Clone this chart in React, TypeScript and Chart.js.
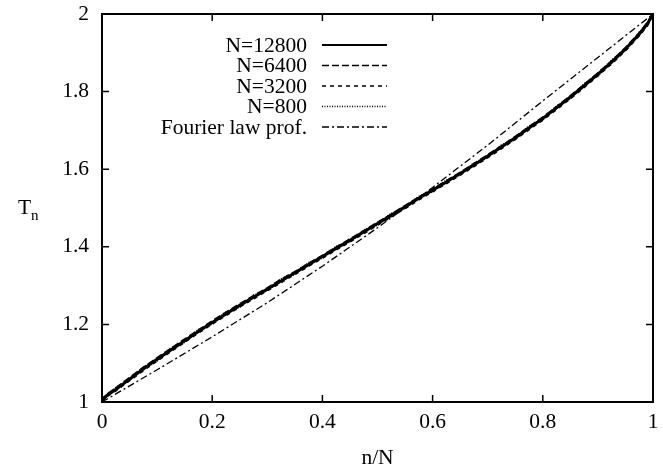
import React, { useEffect, useRef } from "react";
import { Chart, registerables } from "chart.js";

Chart.register(...registerables);

// Positions n/N of the sampled sites
const positions = [
  0, 0.005, 0.01, 0.025, 0.05, 0.075, 0.1, 0.125, 0.15, 0.175, 0.2, 0.225, 0.25,
  0.275, 0.3, 0.325, 0.35, 0.375, 0.4, 0.425, 0.45, 0.475, 0.5, 0.525, 0.55,
  0.575, 0.6, 0.625, 0.65, 0.675, 0.7, 0.725, 0.75, 0.775, 0.8, 0.825, 0.85,
  0.875, 0.9, 0.925, 0.95, 0.975, 0.99, 0.995, 1,
];

// Temperature profiles T_n for each system size
const tempN12800 = [
  1.0, 1.011, 1.018, 1.032, 1.059, 1.085, 1.11, 1.134, 1.158, 1.182, 1.205, 1.227,
  1.249, 1.27, 1.291, 1.312, 1.333, 1.354, 1.375, 1.396, 1.417, 1.438, 1.46, 1.481,
  1.503, 1.525, 1.546, 1.567, 1.589, 1.611, 1.634, 1.657, 1.681, 1.706, 1.731,
  1.758, 1.786, 1.815, 1.845, 1.876, 1.91, 1.948, 1.975, 1.987, 2.0,
];
const tempN6400 = [
  1.0, 1.013, 1.02, 1.035, 1.062, 1.088, 1.113, 1.137, 1.161, 1.184, 1.208, 1.23,
  1.252, 1.273, 1.293, 1.315, 1.335, 1.356, 1.377, 1.398, 1.419, 1.44, 1.462,
  1.483, 1.505, 1.527, 1.548, 1.569, 1.591, 1.613, 1.636, 1.659, 1.683, 1.708,
  1.733, 1.76, 1.788, 1.817, 1.847, 1.878, 1.912, 1.95, 1.977, 1.988, 2.0,
];
const tempN3200 = [
  1.0, 1.009, 1.016, 1.03, 1.056, 1.082, 1.107, 1.131, 1.155, 1.179, 1.202, 1.224,
  1.246, 1.267, 1.288, 1.309, 1.33, 1.351, 1.372, 1.393, 1.414, 1.435, 1.457,
  1.478, 1.5, 1.522, 1.543, 1.564, 1.586, 1.608, 1.631, 1.654, 1.678, 1.703,
  1.728, 1.755, 1.783, 1.812, 1.842, 1.873, 1.907, 1.945, 1.972, 1.985, 2.0,
];
const tempN800 = [
  1.0, 1.015, 1.017, 1.036, 1.057, 1.089, 1.107, 1.138, 1.155, 1.186, 1.202, 1.231,
  1.246, 1.274, 1.288, 1.316, 1.33, 1.358, 1.372, 1.4, 1.414, 1.442, 1.457, 1.485,
  1.5, 1.529, 1.543, 1.571, 1.586, 1.615, 1.631, 1.661, 1.678, 1.71, 1.728, 1.762,
  1.783, 1.819, 1.842, 1.88, 1.907, 1.952, 1.972, 1.99, 2.0,
];

// Fourier law prediction
const fourierPositions = [0, 0.1, 0.2, 0.3, 0.4, 0.5, 0.6, 0.7, 0.8, 0.9, 1];
const fourierTemp = [1.0, 1.083, 1.168, 1.256, 1.35, 1.449, 1.553, 1.662, 1.776, 1.888, 2.0];

const xTicks = [0, 0.2, 0.4, 0.6, 0.8, 1];
const yTicks = [1, 1.2, 1.4, 1.6, 1.8, 2];

const legendLabels = ["N=12800", "N=6400", "N=3200", "N=800", "Fourier law prof."];
const legendDashes: number[][] = [[], [7, 3], [4, 4], [1, 1.5], [7, 3, 2, 3]];

const FONT = "Liberation Serif, Times New Roman, serif";
const FS = 21.5;

const toPoints = (xs: number[], ys: number[]) => xs.map((x, i) => ({ x, y: ys[i] }));

const fmt = (v: number) => String(Math.round(v * 10) / 10);

const framePlugin = {
  id: "gnuplotFrame",
  afterDraw(chart: any) {
    const { ctx, chartArea, scales } = chart;
    const { left, right, top, bottom } = chartArea;
    const xs = scales.x;
    const ys = scales.y;
    ctx.save();
    ctx.strokeStyle = "#000";
    ctx.lineWidth = 2;
    ctx.setLineDash([]);
    ctx.strokeRect(left, top, right - left, bottom - top);
    ctx.lineWidth = 1.5;
    const tl = 7;
    ctx.beginPath();
    xTicks.forEach((v) => {
      const px = xs.getPixelForValue(v);
      ctx.moveTo(px, bottom);
      ctx.lineTo(px, bottom - tl);
      ctx.moveTo(px, top);
      ctx.lineTo(px, top + tl);
    });
    yTicks.forEach((v) => {
      const py = ys.getPixelForValue(v);
      ctx.moveTo(left, py);
      ctx.lineTo(left + tl, py);
      ctx.moveTo(right, py);
      ctx.lineTo(right - tl, py);
    });
    ctx.stroke();

    // Legend
    ctx.font = `${FS}px ${FONT}`;
    ctx.fillStyle = "#000";
    ctx.textAlign = "right";
    ctx.textBaseline = "middle";
    const textRight = 307;
    const lineStart = 322;
    const lineEnd = 387;
    const rowTop = 45;
    const rowGap = 20.5;
    legendLabels.forEach((label, i) => {
      const y = rowTop + i * rowGap;
      ctx.fillText(label, textRight, y + 1);
      ctx.beginPath();
      ctx.lineWidth = i === 0 ? 2 : 1.3;
      ctx.setLineDash(legendDashes[i]);
      ctx.moveTo(lineStart, y);
      ctx.lineTo(lineEnd, y);
      ctx.stroke();
    });
    ctx.setLineDash([]);

    // Axis titles
    ctx.textAlign = "center";
    ctx.textBaseline = "middle";
    ctx.font = `${FS}px ${FONT}`;
    ctx.fillText("n/N", (left + right) / 2, 458);
    ctx.textAlign = "left";
    ctx.fillText("T", 18, 208);
    ctx.font = `15px ${FONT}`;
    ctx.fillText("n", 31, 216);
    ctx.restore();
  },
};

export default function App() {
  const canvasRef = useRef<HTMLCanvasElement | null>(null);

  useEffect(() => {
    if (!canvasRef.current) return;
    const line = (data: any, dash: number[], width: number) => ({
      data,
      borderColor: "#000",
      backgroundColor: "#000",
      borderWidth: width,
      borderDash: dash,
      pointRadius: 0,
      tension: 0,
      fill: false,
    });
    const chart = new Chart(canvasRef.current, {
      type: "line",
      data: {
        datasets: [
          { label: legendLabels[3], ...line(toPoints(positions, tempN800), [1, 1.5], 2.5) },
          { label: legendLabels[2], ...line(toPoints(positions, tempN3200), [4, 4], 2.5) },
          { label: legendLabels[1], ...line(toPoints(positions, tempN6400), [7, 3], 2.5) },
          { label: legendLabels[0], ...line(toPoints(positions, tempN12800), [], 3) },
          { label: legendLabels[4], ...line(toPoints(fourierPositions, fourierTemp), [7, 3, 2, 3], 1.3) },
        ],
      },
      options: {
        responsive: false,
        animation: false,
        devicePixelRatio: 1,
        layout: { padding: { top: 14, right: 10, left: 0, bottom: 0 } },
        plugins: { legend: { display: false }, tooltip: { enabled: false } },
        scales: {
          x: {
            type: "linear",
            min: 0,
            max: 1,
            grid: { display: false, drawTicks: false },
            border: { display: false },
            afterBuildTicks: (scale: any) => {
              scale.ticks = xTicks.map((v) => ({ value: v }));
            },
            afterFit: (scale: any) => {
              scale.height = 70;
              scale.paddingLeft = 0;
              scale.paddingRight = 0;
            },
            ticks: {
              color: "#000",
              font: { family: FONT, size: FS },
              padding: 7,
              maxRotation: 0,
              callback: (v: any) => fmt(Number(v)),
            },
          },
          y: {
            type: "linear",
            min: 1,
            max: 2,
            grid: { display: false, drawTicks: false },
            border: { display: false },
            afterBuildTicks: (scale: any) => {
              scale.ticks = yTicks.map((v) => ({ value: v }));
            },
            afterFit: (scale: any) => {
              scale.width = 102;
              scale.paddingTop = 0;
              scale.paddingBottom = 0;
            },
            ticks: {
              color: "#000",
              font: { family: FONT, size: FS },
              padding: 13,
              callback: (v: any) => fmt(Number(v)),
            },
          },
        },
      },
      plugins: [framePlugin],
    });
    return () => chart.destroy();
  }, []);

  return (
    <div style={{ position: "fixed", left: 0, top: 0, width: 663, height: 472, background: "#fff" }}>
      <canvas ref={canvasRef} width={663} height={472} style={{ width: 663, height: 472 }} />
    </div>
  );
}
